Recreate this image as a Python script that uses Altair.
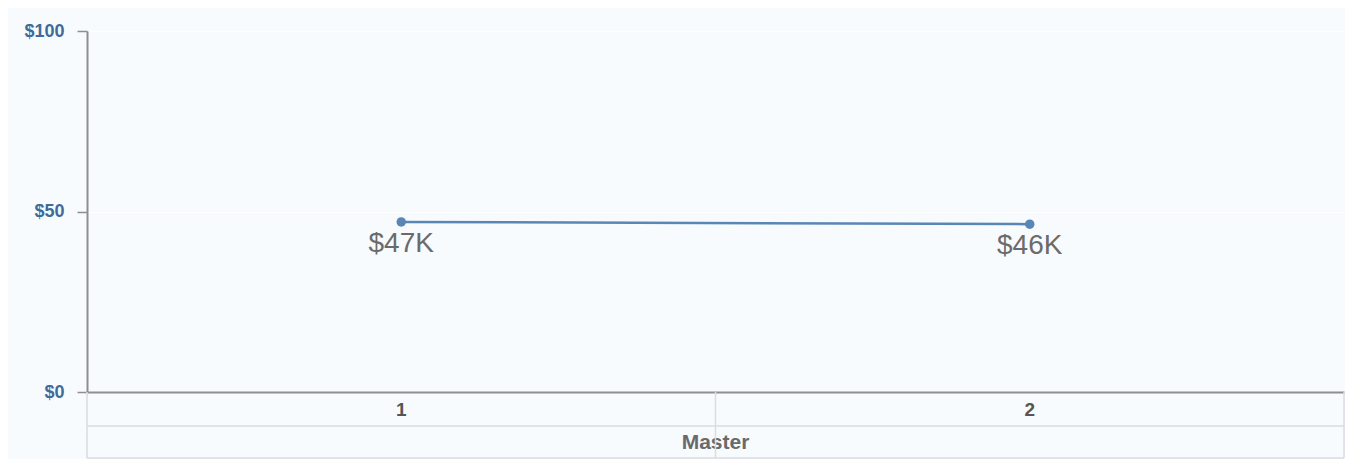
import altair as alt
import pandas as pd

categories = ["1", "2"]
values = [47.1, 46.5]
labels = ["$47K", "$46K"]
group_label = "Master"
y_ticks = [0, 50, 100]

W, H = 1257, 361
ROW1, ROW2 = 34, 66
FONT = "Liberation Sans"
LINE_COLOR = "#5a86b6"
GRID_LINE = "#d9dde2"

df = pd.DataFrame({"cat": categories, "val": values, "lab": labels})
one = pd.DataFrame({"k": [0]})

x_enc = alt.X("cat:N", sort=categories,
              scale=alt.Scale(paddingInner=0, paddingOuter=0),
              axis=alt.Axis(labels=False, ticks=False, title=None, domain=True,
                            domainColor="#8e8e8e", domainWidth=2, grid=False))
y_enc = alt.Y("val:Q", scale=alt.Scale(domain=[0, 100], nice=False),
              axis=alt.Axis(values=y_ticks, format="$,.0f", title=None,
                            labelFont=FONT, labelFontWeight="bold", labelFontSize=18,
                            labelColor="#3f6b9b", labelPadding=13,
                            tickSize=10, tickColor="#8e8e8e", tickWidth=1.5,
                            domainColor="#8e8e8e", domainWidth=2,
                            grid=True, gridColor="#ffffff", gridWidth=1))

base = alt.Chart(df)

line = base.mark_line(color=LINE_COLOR, strokeWidth=2.5).encode(x=x_enc, y=y_enc)
pts = base.mark_circle(color=LINE_COLOR, opacity=1, size=90).encode(
    x=alt.X("cat:N", sort=categories), y="val:Q")
txt = base.mark_text(font=FONT, fontSize=28, color="#6b6b6b", baseline="middle",
                     dy=22).encode(x=alt.X("cat:N", sort=categories), y="val:Q", text="lab:N")

cat_txt = base.mark_text(font=FONT, fontSize=19, fontWeight="bold", color="#555555",
                         baseline="middle").encode(x=alt.X("cat:N", sort=categories),
                                                   y=alt.value(H + ROW1 / 2 + 1), text="cat:N")

title_df = pd.DataFrame({"t": [group_label]})
master = alt.Chart(title_df).mark_text(font=FONT, fontSize=21, fontWeight="bold",
                                       color="#6a6a6a", baseline="middle").encode(
    x=alt.value(W / 2), y=alt.value(H + (ROW1 + ROW2) / 2 + 1), text="t:N")


def hrule(yv):
    return alt.Chart(one).mark_rule(color=GRID_LINE, strokeWidth=1.5).encode(
        x=alt.value(0), x2=alt.value(W), y=alt.value(yv))


def vrule(xv):
    return alt.Chart(one).mark_rule(color=GRID_LINE, strokeWidth=1.5).encode(
        x=alt.value(xv), y=alt.value(H), y2=alt.value(H + ROW2))


rules = [hrule(H + ROW1), hrule(H + ROW2), vrule(0), vrule(W / 2), vrule(W)]

chart = alt.layer(line, pts, txt, cat_txt, master, *rules).properties(
    width=W, height=H,
    autosize=alt.AutoSizeParams(type="none"),
    padding={"left": 79, "top": 23, "right": 1, "bottom": 67},
    background="#f7fbfe",
).configure_view(stroke=None, fill="#f7fbfe")

chart.save("out.html", embed_options={"renderer": "svg", "actions": False})
